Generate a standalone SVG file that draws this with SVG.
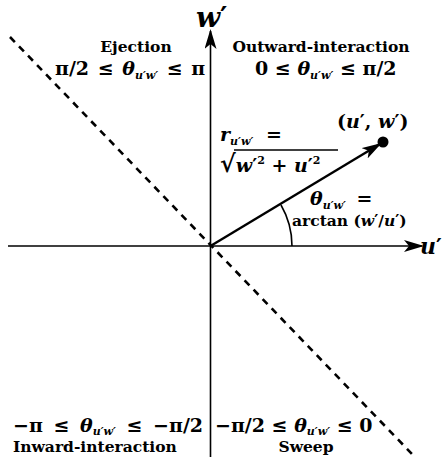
<svg xmlns="http://www.w3.org/2000/svg" width="444" height="461" viewBox="0 0 444 461">
<defs>
<style>
.lbl{font-family:"DejaVu Serif","Liberation Serif",serif;font-weight:bold;font-size:15.5px;fill:#000}
.m{font-family:"DejaVu Serif","Liberation Serif",serif;font-weight:bold;font-size:19px;fill:#000}
.i{font-style:italic}
.p{font-family:"DejaVu Sans",sans-serif;font-style:normal;font-weight:bold}
.s{font-size:11px}
.big{font-size:28px}
.mid{font-size:22px}
.sm{font-family:"DejaVu Serif","Liberation Serif",serif;font-weight:bold;font-size:15.5px;fill:#000}
.ax{stroke:#000;stroke-width:1.6;fill:none}
</style>
<marker id="ah" viewBox="0 0 20 12" refX="18" refY="6" markerWidth="20" markerHeight="12" markerUnits="userSpaceOnUse" orient="auto">
<path d="M0,0 L20,6 L0,12 L5,6 Z" fill="#000"/>
</marker>
</defs>
<rect width="444" height="461" fill="#fff"/>
<g id="connectors">
<line class="ax" x1="210.5" y1="457" x2="210.5" y2="31" marker-end="url(#ah)"/>
<line class="ax" x1="8" y1="246" x2="422" y2="246" marker-end="url(#ah)"/>
<line x1="10" y1="37" x2="412" y2="454" stroke="#000" stroke-width="2.6" stroke-dasharray="7,6"/>
<line x1="210.5" y1="246" x2="380" y2="144" stroke="#000" stroke-width="2.4" marker-end="url(#ah)"/>
<path class="ax" d="M292,246 A82,82 0 0 0 281,205"/>
</g>
<g id="point">
<circle cx="383" cy="142" r="5.5" fill="#000"/>
<text class="m" x="337" y="128"><tspan>(</tspan><tspan class="i">u</tspan><tspan class="p">′</tspan><tspan>, </tspan><tspan class="i">w</tspan><tspan class="p">′</tspan><tspan>)</tspan></text>
</g>
<g id="axis-labels">
<text class="m big" x="196" y="27"><tspan class="i">w</tspan><tspan class="p">′</tspan></text>
<text class="m mid" x="420" y="254"><tspan class="i">u</tspan><tspan class="p">′</tspan></text>
</g>
<g id="ejection">
<text class="lbl" x="136" y="52" text-anchor="middle">Ejection</text>
<text class="m" x="55" y="75" word-spacing="2"><tspan>π/2 ≤ </tspan><tspan class="i">θ</tspan><tspan class="s i" dy="4">u′w′</tspan><tspan dy="-4"> ≤ π</tspan></text>
</g>
<g id="outward">
<text class="lbl" x="321" y="52" text-anchor="middle">Outward-interaction</text>
<text class="m" x="255" y="75"><tspan>0 ≤ </tspan><tspan class="i">θ</tspan><tspan class="s i" dy="4">u′w′</tspan><tspan dy="-4"> ≤ π/2</tspan></text>
</g>
<g id="magnitude">
<text class="m" x="220" y="141" word-spacing="6"><tspan class="i">r</tspan><tspan class="s i" dy="4">u′w′</tspan><tspan dy="-4"> =</tspan></text>
<text class="m" x="220" y="172"><tspan font-size="24">√</tspan><tspan class="i">w</tspan><tspan class="p">′</tspan><tspan class="s" dy="-8">2</tspan><tspan dy="8"> + </tspan><tspan class="i">u</tspan><tspan class="p">′</tspan><tspan class="s" dy="-8">2</tspan></text>
<line x1="234" y1="150" x2="338" y2="150" stroke="#000" stroke-width="1.3"/>
</g>
<g id="angle">
<text class="m" x="310" y="205" word-spacing="4"><tspan class="i">θ</tspan><tspan class="s i" dy="4">u′w′</tspan><tspan dy="-4"> =</tspan></text>
<text class="sm" x="292" y="226">arctan (<tspan class="i">w</tspan><tspan class="p">′</tspan>/<tspan class="i">u</tspan><tspan class="p">′</tspan>)</text>
</g>
<g id="inward">
<text class="m" x="13" y="432" word-spacing="4"><tspan>−π ≤ </tspan><tspan class="i">θ</tspan><tspan class="s i" dy="3">u′w′</tspan><tspan dy="-3"> ≤ −π/2</tspan></text>
<text class="lbl" x="13" y="452">Inward-interaction</text>
</g>
<g id="sweep">
<text class="m" x="215" y="432"><tspan>−π/2 ≤ </tspan><tspan class="i">θ</tspan><tspan class="s i" dy="3">u′w′</tspan><tspan dy="-3"> ≤ 0</tspan></text>
<text class="lbl" x="306" y="452" text-anchor="middle">Sweep</text>
</g>
</svg>
